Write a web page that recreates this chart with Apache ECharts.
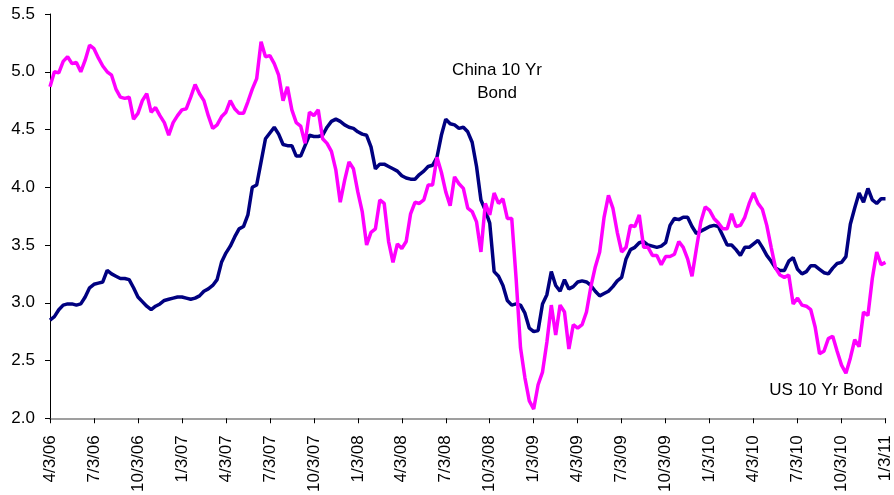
<!DOCTYPE html>
<html>
<head>
<meta charset="utf-8">
<script src="https://cdn.jsdelivr.net/npm/echarts@6/dist/echarts.min.js"></script>
<style>
  html, body { margin: 0; padding: 0; background: #fff; }
  #chart { width: 894px; height: 495px; }
</style>
</head>
<body>
<div id="chart"></div>
<script>
// Quarterly date ticks along the x axis
const tickLabels = ['4/3/06', '7/3/06', '10/3/06', '1/3/07', '4/3/07', '7/3/07', '10/3/07',
  '1/3/08', '4/3/08', '7/3/08', '10/3/08', '1/3/09', '4/3/09', '7/3/09', '10/3/09',
  '1/3/10', '4/3/10', '7/3/10', '10/3/10', '1/3/11'];

// Samples per quarter for both yield series
const PTS_PER_QUARTER = 10;

// US 10-year Treasury yield (%)
const us10y = [
  4.87, 5.00, 4.99, 5.09, 5.13, 5.07, 5.08, 5.00, 5.10, 5.23,
  5.20, 5.12, 5.05, 5.00, 4.97, 4.85, 4.78, 4.77, 4.78, 4.59,
  4.64, 4.75, 4.81, 4.65, 4.69, 4.62, 4.56, 4.45, 4.56, 4.62,
  4.67, 4.68, 4.78, 4.89, 4.81, 4.75, 4.62, 4.51, 4.54, 4.61,
  4.65, 4.75, 4.68, 4.64, 4.64, 4.74, 4.85, 4.94, 5.26, 5.13,
  5.14, 5.07, 4.97, 4.75, 4.87, 4.67, 4.56, 4.53, 4.38, 4.65,
  4.62, 4.67, 4.42, 4.38, 4.31, 4.15, 3.87, 4.06, 4.22, 4.16,
  3.96, 3.79, 3.50, 3.61, 3.64, 3.89, 3.86, 3.53, 3.35, 3.51,
  3.47, 3.53, 3.77, 3.87, 3.86, 3.89, 4.02, 4.02, 4.26, 4.13,
  3.96, 3.84, 4.09, 4.03, 3.99, 3.82, 3.79, 3.70, 3.44, 3.86,
  3.76, 3.95, 3.86, 3.90, 3.73, 3.73, 3.21, 2.61, 2.35, 2.15,
  2.08, 2.29, 2.40, 2.66, 2.98, 2.72, 2.98, 2.92, 2.60, 2.81,
  2.78, 2.81, 2.92, 3.14, 3.31, 3.44, 3.74, 3.93, 3.82, 3.61,
  3.44, 3.48, 3.67, 3.66, 3.76, 3.48, 3.48, 3.41, 3.41, 3.33,
  3.40, 3.40, 3.42, 3.53, 3.48, 3.38, 3.23, 3.47, 3.70, 3.83,
  3.80, 3.73, 3.69, 3.64, 3.64, 3.77, 3.66, 3.67, 3.74, 3.86,
  3.95, 3.86, 3.81, 3.67, 3.48, 3.30, 3.24, 3.22, 3.24, 2.99,
  3.04, 2.98, 2.97, 2.94, 2.79, 2.56, 2.58, 2.69, 2.71, 2.58,
  2.46, 2.39, 2.52, 2.68, 2.62, 2.92, 2.89, 3.21, 3.44, 3.33,
  3.35
];

// China 10-year government bond yield (%)
const china10y = [
  2.85, 2.88, 2.94, 2.98, 2.99, 2.99, 2.98, 2.99, 3.05, 3.13,
  3.16, 3.17, 3.18, 3.28, 3.25, 3.23, 3.21, 3.21, 3.20, 3.13,
  3.05, 3.01, 2.97, 2.94, 2.97, 2.99, 3.02, 3.03, 3.04, 3.05,
  3.05, 3.04, 3.03, 3.04, 3.06, 3.10, 3.12, 3.15, 3.20, 3.35,
  3.43, 3.49, 3.57, 3.64, 3.66, 3.76, 4.00, 4.02, 4.22, 4.42,
  4.47, 4.52, 4.46, 4.37, 4.36, 4.36, 4.27, 4.27, 4.36, 4.45,
  4.44, 4.44, 4.45, 4.52, 4.57, 4.59, 4.57, 4.54, 4.52, 4.51,
  4.48, 4.46, 4.45, 4.35, 4.16, 4.20, 4.20, 4.18, 4.16, 4.14,
  4.10, 4.08, 4.07, 4.07, 4.11, 4.14, 4.18, 4.19, 4.26, 4.45,
  4.59, 4.55, 4.54, 4.51, 4.52, 4.48, 4.39, 4.18, 3.89, 3.80,
  3.69, 3.27, 3.23, 3.15, 3.02, 2.98, 2.99, 2.98, 2.91, 2.78,
  2.75, 2.76, 2.99, 3.07, 3.27, 3.15, 3.10, 3.20, 3.12, 3.14,
  3.18, 3.19, 3.18, 3.15, 3.10, 3.06, 3.08, 3.10, 3.14, 3.19,
  3.22, 3.38, 3.46, 3.48, 3.52, 3.53, 3.50, 3.49, 3.48, 3.49,
  3.52, 3.67, 3.73, 3.72, 3.74, 3.74, 3.66, 3.60, 3.62, 3.64,
  3.66, 3.67, 3.66, 3.58, 3.50, 3.50, 3.46, 3.41, 3.48, 3.48,
  3.51, 3.54, 3.48, 3.41, 3.36, 3.30, 3.28, 3.28, 3.36, 3.39,
  3.29, 3.25, 3.27, 3.32, 3.32, 3.29, 3.26, 3.25, 3.30, 3.34,
  3.35, 3.40, 3.68, 3.82, 3.95, 3.87, 3.99, 3.89, 3.86, 3.90,
  3.90
];

const seriesNames = ['China 10 Yr Bond', 'US 10 Yr Bond'];

// x position measured in quarters from the first tick
const toPoints = (vals) => vals.map((v, i) => [i / PTS_PER_QUARTER, v]);

const FONT = '"Liberation Sans", Arial, sans-serif';

const chart = echarts.init(document.getElementById('chart'), null, { renderer: 'canvas' });
chart.setOption({
  animation: false,
  backgroundColor: '#ffffff',
  grid: { left: 50, right: 1, top: 14, bottom: 75, containLabel: false },
  xAxis: {
    type: 'value',
    min: 0,
    max: tickLabels.length - 1,
    interval: 1,
    axisLine: { show: true, lineStyle: { color: '#808080', width: 1.5 } },
    axisTick: { show: true, length: 5, lineStyle: { color: '#000', width: 1 } },
    splitLine: { show: false },
    axisLabel: {
      rotate: 90,
      margin: 17,
      color: '#000',
      fontFamily: FONT,
      fontSize: 17,
      showMinLabel: true,
      showMaxLabel: true,
      formatter: (v) => tickLabels[Math.round(v)] || ''
    }
  },
  yAxis: {
    type: 'value',
    min: 2,
    max: 5.5,
    interval: 0.5,
    axisLine: { show: true, lineStyle: { color: '#000', width: 1 } },
    axisTick: { show: true, length: 5, lineStyle: { color: '#000', width: 1 } },
    splitLine: { show: false },
    axisLabel: {
      margin: 15,
      color: '#000',
      fontFamily: FONT,
      fontSize: 17,
      formatter: (v) => v.toFixed(1)
    }
  },
  series: [
    {
      name: seriesNames[0],
      type: 'line',
      data: toPoints(china10y),
      showSymbol: false,
      symbol: 'none',
      lineStyle: { color: '#000080', width: 3.5 },
      z: 2
    },
    {
      name: seriesNames[1],
      type: 'line',
      data: toPoints(us10y),
      showSymbol: false,
      symbol: 'none',
      lineStyle: { color: '#ff00ff', width: 3.5 },
      z: 3
    }
  ],
  graphic: [
    {
      type: 'text',
      x: 497,
      y: 59,
      style: {
        text: 'China 10 Yr\nBond',
        align: 'center',
        verticalAlign: 'top',
        fill: '#000',
        font: '17px ' + FONT,
        lineHeight: 23
      }
    },
    {
      type: 'text',
      x: 826,
      y: 382,
      style: {
        text: 'US 10 Yr Bond',
        align: 'center',
        verticalAlign: 'top',
        fill: '#000',
        font: '17px ' + FONT
      }
    }
  ]
});
</script>
</body>
</html>
